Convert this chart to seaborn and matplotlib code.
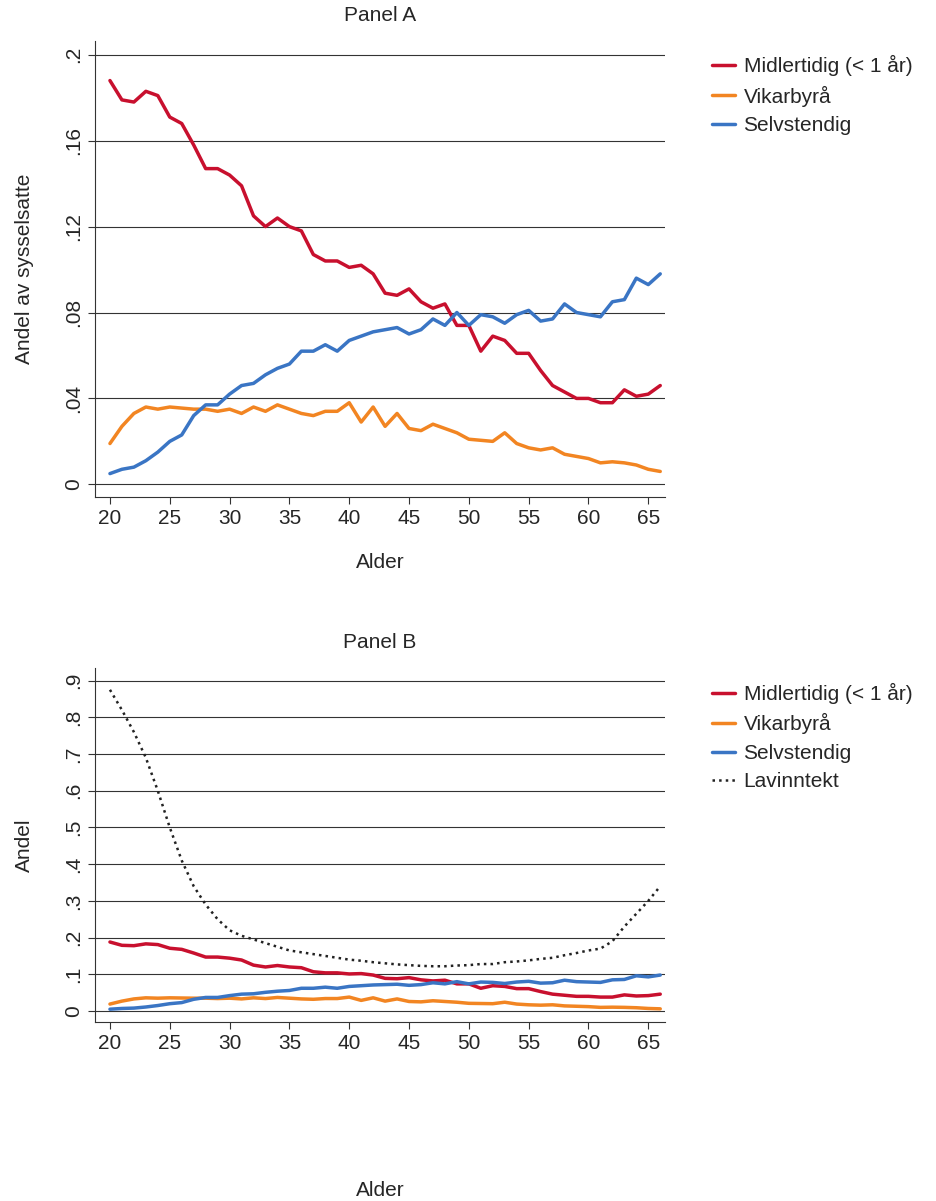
import matplotlib
matplotlib.use("Agg")
import matplotlib.pyplot as plt
import seaborn as sns
import pandas as pd
import numpy as np

ages = list(range(20, 67))
midl = [.188,.179,.178,.183,.181,.171,.168,.158,.147,.147,.144,.139,.125,.120,.124,.120,.118,.107,.104,.104,.101,.102,.098,.089,.088,.091,.085,.082,.084,.074,.074,.062,.069,.067,.061,.061,.053,.046,.043,.040,.040,.038,.038,.044,.041,.042,.046]
vikar = [.019,.027,.033,.036,.035,.036,.0355,.035,.035,.034,.035,.033,.036,.034,.037,.035,.033,.032,.034,.034,.038,.029,.036,.027,.033,.026,.025,.028,.026,.024,.021,.0205,.020,.024,.019,.017,.016,.017,.014,.013,.012,.010,.0105,.010,.009,.007,.006]
selv = [.005,.007,.008,.011,.015,.020,.023,.032,.037,.037,.042,.046,.047,.051,.054,.056,.062,.062,.065,.062,.067,.069,.071,.072,.073,.070,.072,.077,.074,.080,.074,.079,.078,.075,.079,.081,.076,.077,.084,.080,.079,.078,.085,.086,.096,.093,.098]
lav = [.875,.82,.76,.69,.60,.50,.41,.34,.29,.25,.22,.205,.195,.185,.175,.165,.16,.155,.15,.145,.14,.137,.133,.13,.127,.125,.123,.122,.122,.124,.125,.128,.128,.133,.135,.138,.142,.145,.152,.158,.165,.17,.19,.23,.265,.30,.34]

names = ["Midlertidig (< 1 år)", "Vikarbyrå", "Selvstendig", "Lavinntekt"]
cols = ["#C8102E", "#F28522", "#3A75C4", "#222222"]

sns.set_style("white")
plt.rcParams['font.family'] = ['Liberation Sans', 'DejaVu Sans']
FS = 15

fig = plt.figure(figsize=(9.36, 12.01), dpi=100)
axA = fig.add_axes([0.1015, 0.586, 0.609, 0.380])
axB = fig.add_axes([0.1015, 0.149, 0.609, 0.295])

def draw(ax, series, yticks, ylabels, ylim, ylabel, title, xpad):
    for s, n, c in zip(series, names, cols):
        df = pd.DataFrame({"Alder": ages, "v": s})
        ls = ":" if n == "Lavinntekt" else "-"
        sns.lineplot(data=df, x="Alder", y="v", ax=ax, color=c, lw=2.5 if ls == "-" else 1.8,
                     linestyle=ls, label=n)
    ax.set_xlim(18.75, 66.4)
    ax.set_ylim(*ylim)
    ax.set_xticks(range(20, 66, 5))
    ax.set_yticks(yticks)
    ax.set_yticklabels(ylabels, rotation=90, va="center")
    ax.grid(axis="y", color="#333333", lw=0.8)
    ax.set_axisbelow(True)
    for sp in ["top", "right"]:
        ax.spines[sp].set_visible(False)
    for sp in ["left", "bottom"]:
        ax.spines[sp].set_color("#333333")
    ax.tick_params(axis="both", labelsize=FS, length=5, color="#333333", direction="out", left=True, bottom=True)
    ax.set_xlabel("Alder", fontsize=FS, labelpad=xpad)
    ax.set_ylabel(ylabel, fontsize=FS, labelpad=22)
    ax.set_title(title, fontsize=FS, pad=14)
    ax.legend(loc="upper left", bbox_to_anchor=(1.05, 1.01), frameon=False, fontsize=FS,
              handlelength=1.1, handletextpad=0.4, labelspacing=0.45)

draw(axA, [midl, vikar, selv], [0, .04, .08, .12, .16, .2], ["0", ".04", ".08", ".12", ".16", ".2"],
     (-0.006, 0.2065), "Andel av sysselsatte", "Panel A", 18)
draw(axB, [midl, vikar, selv, lav], [i/10 for i in range(10)], ["0"] + ["." + str(i) for i in range(1, 10)],
     (-0.03, 0.935), "Andel", "Panel B", 92)

fig.savefig("out.png", dpi=100)
